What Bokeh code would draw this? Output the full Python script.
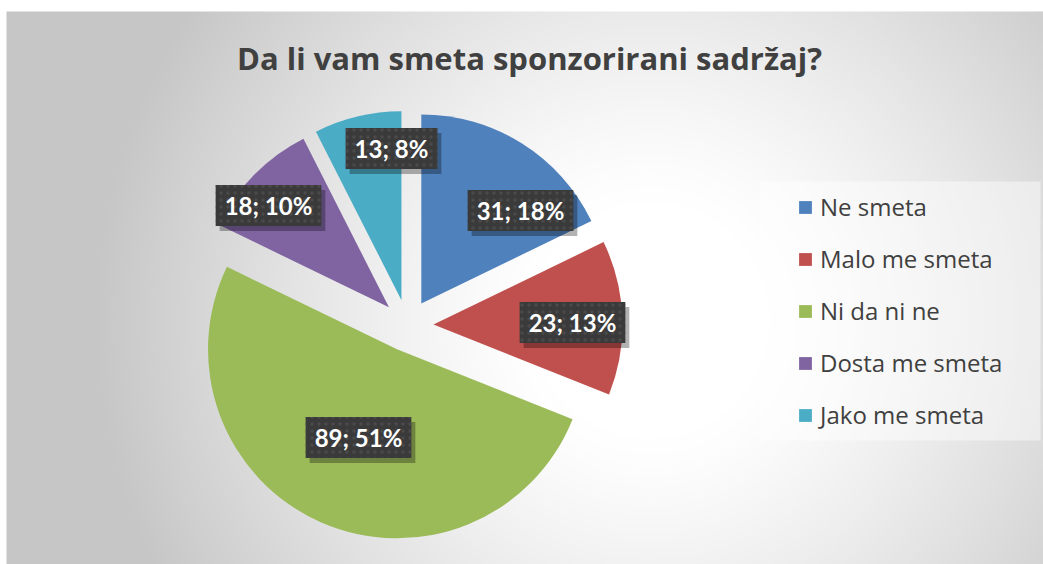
import numpy as np
from bokeh.plotting import figure
from bokeh.models import Range1d, Legend, LegendItem, ColumnDataSource
from bokeh.embed import file_html
from bokeh.resources import INLINE
from bokeh.core.properties import value

# ---- data ----
categories = ["Ne smeta", "Malo me smeta", "Ni da ni ne", "Dosta me smeta", "Jako me smeta"]
counts = [31, 23, 89, 18, 13]
percent_labels = ["18%", "13%", "51%", "10%", "8%"]
colors = ["#4F81BD", "#C0504D", "#9BBB59", "#8064A2", "#4BACC6"]
title_text = "Da li  vam smeta sponzorirani sadržaj?"

# ---- layout (pixels) ----
W, H = 1043, 564
LABEL_FONT = "Lato"
TEXT_FONT = "Open Sans"
cx, cy, R, EXPLODE = 407, 239, 189, 26
label_dx = [113, 165, -49, -139, -16]
label_dy = [115, 3, -112, 120, 177]

p = figure(width=W, height=H, x_range=Range1d(0, W), y_range=Range1d(0, H),
           output_backend="svg", toolbar_location=None, min_border=0,
           x_axis_location=None, y_axis_location=None,
           background_fill_color="white", border_fill_color="white",
           outline_line_color=None)
p.grid.visible = False

# background radial gradient
nx, ny = 520, 277
xs = np.linspace(6, W, nx)
ys = np.linspace(0, 553, ny)
X, Y = np.meshgrid(xs, ys)
d = np.hypot(X - 650, Y - 244)
t = np.clip((d - 120) / 440, 0, 1) ** 1.2
v = (255 - 57 * t).astype(np.uint8)
img = np.empty((ny, nx), dtype=np.uint32)
view = img.view(dtype=np.uint8).reshape((ny, nx, 4))
view[..., 0] = v
view[..., 1] = v
view[..., 2] = v
view[..., 3] = 255
p.image_rgba(image=[img], x=6, y=0, dw=W - 6, dh=553)

# legend background box
p.quad(left=[759], right=[1040], bottom=[124], top=[383],
       fill_color="white", fill_alpha=0.45, line_color=None)

# pie wedges (exploded)
total = float(sum(counts))
fr = np.array(counts) / total
cum = np.concatenate([[0.0], np.cumsum(fr)])
start = np.pi / 2 - 2 * np.pi * cum[:-1]
end = np.pi / 2 - 2 * np.pi * cum[1:]
mid = (start + end) / 2
wx = cx + EXPLODE * np.cos(mid)
wy = cy + EXPLODE * np.sin(mid)
src = ColumnDataSource(dict(x=wx, y=wy, start=start, end=end, color=colors, cat=categories))
wr = p.wedge(x="x", y="y", radius=R, start_angle="start", end_angle="end",
             direction="clock", fill_color="color", line_color=None, source=src)

# data labels
lab_text = [f"{c}; {pc}" for c, pc in zip(counts, percent_labels)]
lx = [cx + dx for dx in label_dx]
ly = [cy + dy for dy in label_dy]
lsrc = ColumnDataSource(dict(x=lx, y=ly, text=lab_text))
p.text(x="x", y="y", text="text", source=lsrc, x_offset=4, y_offset=5,
       text_font=value(LABEL_FONT), text_font_style="bold", text_font_size="24px",
       text_align="center", text_baseline="middle", text_alpha=0,
       background_fill_color="black", background_fill_alpha=0.3, padding=(9, 6))
p.text(x="x", y="y", text="text", source=lsrc,
       text_font=value(LABEL_FONT), text_font_style="bold", text_font_size="24px",
       text_color="white", text_align="center", text_baseline="middle",
       background_fill_color="#3a3a3a", padding=(9, 6),
       background_hatch_pattern="dot", background_hatch_color="#4a4a4a",
       background_hatch_scale=7, background_hatch_weight=1.5)

# title
p.text(x=[533], y=[507], text=[title_text], text_font=value(TEXT_FONT),
       text_font_style="bold", text_font_size="31px", text_color="#404040",
       text_align="center", text_baseline="middle")

# legend
items = [LegendItem(label=c, renderers=[wr], index=i) for i, c in enumerate(categories)]
legend = Legend(items=items, location=(797, 133), orientation="vertical",
                glyph_width=16, glyph_height=16, label_height=33, spacing=19,
                padding=0, margin=0, label_standoff=7,
                label_text_font=TEXT_FONT, label_text_font_size="24px",
                label_text_color="#404040",
                background_fill_alpha=0, border_line_alpha=0)
p.add_layout(legend)

open("out.html", "w").write(file_html(p, INLINE))
